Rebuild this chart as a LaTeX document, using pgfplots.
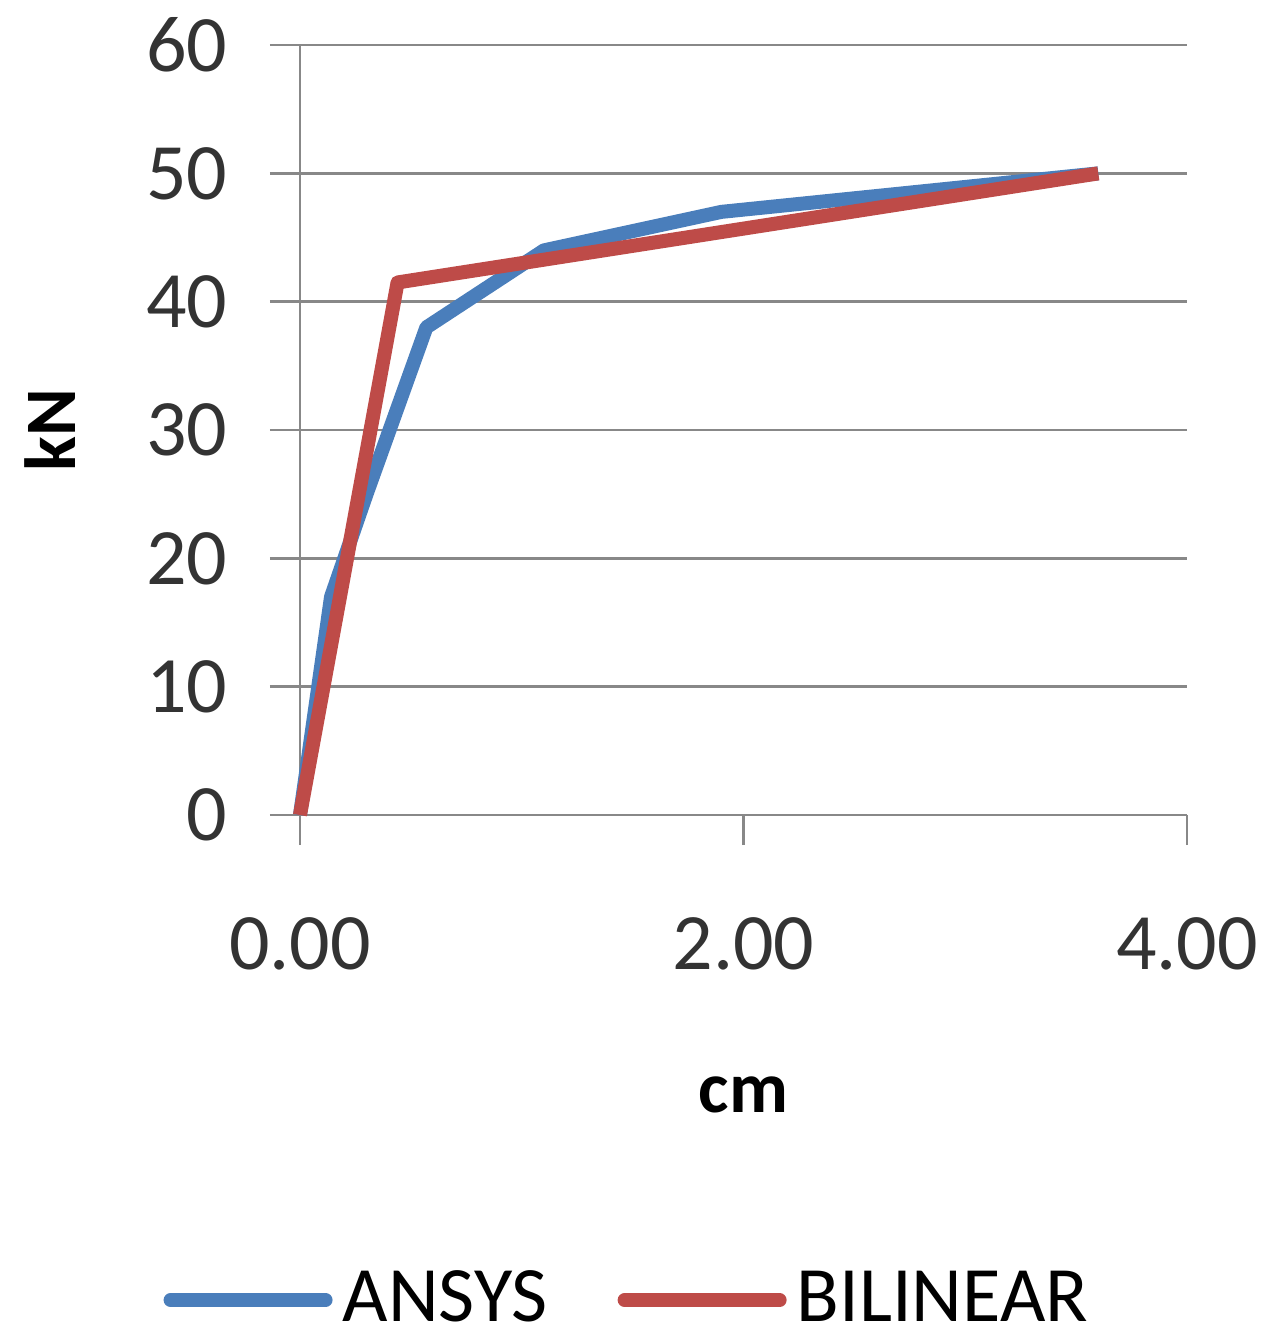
\documentclass[border=0pt]{standalone}
\usepackage{pgfplots}
\pgfplotsset{compat=1.18}
\usepackage{fontspec}
\setmainfont{Carlito}
\definecolor{ansys}{HTML}{4A7EBB}
\definecolor{bilin}{HTML}{BE4B48}
\definecolor{gridc}{HTML}{888888}
\begin{document}
\begin{tikzpicture}
\path[use as bounding box] (-60pt,-105.4pt) rectangle (193.4pt,163pt);
\begin{axis}[
  anchor=south west, at={(0,0)},
  scale only axis, width=177.4pt, height=154pt,
  xmin=0, xmax=4, ymin=0, ymax=60,
  xtick={0,2,4}, ytick={0,10,...,60},
  x tick label style={/pgf/number format/fixed, /pgf/number format/fixed zerofill, /pgf/number format/precision=2, yshift=-11pt},
  /pgf/number format/assume math mode=true,
  tick label style={font=\fontsize{16}{19}\selectfont, text=black!80},
  y tick label style={xshift=-5pt},
  axis x line=bottom, axis y line=left,
  axis line style={gridc, line width=0.5pt, -},
  tick style={gridc, line width=0.5pt},
  tick align=outside, major tick length=6pt,
  ymajorgrids, grid style={gridc, line width=0.5pt},
  xlabel={\textbf{cm}}, ylabel={\textbf{kN}},
  label style={font=\fontsize{14.5}{17}\selectfont},
  xlabel style={at={(axis description cs:0.5,-0.364)}, anchor=center},
  ylabel style={at={(axis description cs:-0.282,0.5)}, anchor=center, rotate=0},
  legend style={at={(axis description cs:0.373,-0.63)}, anchor=center, draw=none,
    font=\fontsize{15.7}{18}\selectfont, column sep=0pt,
    /tikz/every even column/.append style={column sep=12pt}},
  legend columns=2,
  legend image code/.code={\draw[#1, line width=2.8pt, line cap=round] (0pt,0pt) -- (31pt,0pt);},
  clip=false,
]
\addplot[ansys, line width=2.8pt, line join=round] coordinates {
(0,0) (0.14,17) (0.30,25) (0.57,38) (1.1,44) (1.9,47) (3.6,50)};
\addlegendentry{ANSYS}
\addplot[bilin, line width=2.8pt, line join=round] coordinates {
(0,0) (0.44,41.5) (3.6,50)};
\addlegendentry{BILINEAR}
\end{axis}
\end{tikzpicture}
\end{document}
